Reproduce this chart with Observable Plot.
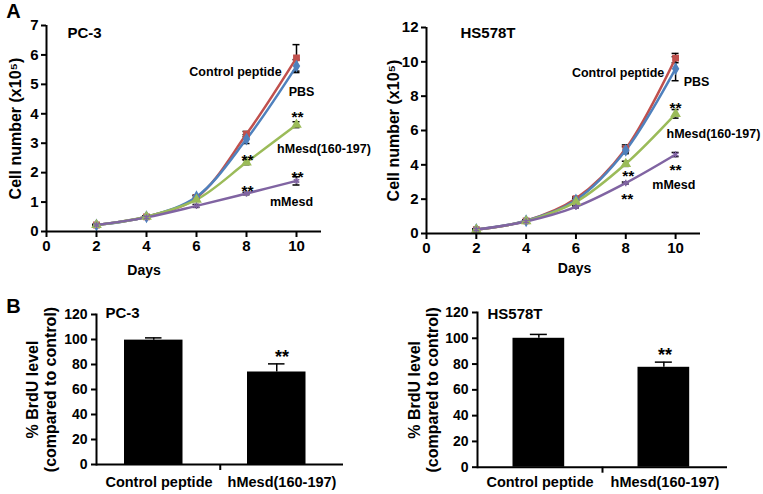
<!DOCTYPE html>
<html><head><meta charset="utf-8">
<script src="https://cdn.jsdelivr.net/npm/d3@7"></script>
<script src="https://cdn.jsdelivr.net/npm/@observablehq/plot@0.6"></script>
<style>
body{margin:0;background:#fff;}
#fig{position:relative;width:763px;height:494px;overflow:hidden;background:#fff;}
.panel{position:absolute;}
</style></head><body><div id="fig"></div>
<script>
// ---------- data ----------
const days = [2, 4, 6, 8, 10];
const xTicks = [0, 2, 4, 6, 8, 10];
const seriesNames = ["Control peptide", "PBS", "hMesd(160-197)", "mMesd"];
const seriesColors = ["#c0504d", "#4f81bd", "#9bbb59", "#8064a2"];
const seriesSymbols = ["square", "diamond", "triangle", "asterisk"];

const pc3Control = [0.22, 0.50, 1.15, 3.31, 5.90];
const pc3PBS     = [0.22, 0.50, 1.18, 3.14, 5.62];
const pc3HMesd   = [0.22, 0.50, 1.08, 2.35, 3.63];
const pc3MMesd   = [0.22, 0.48, 0.87, 1.29, 1.72];
const pc3ControlErr = [0.02, 0.03, 0.06, 0.09, 0.45];
const pc3PBSErr     = [0.02, 0.03, 0.06, 0.15, 0.22];
const pc3HMesdErr   = [0.02, 0.03, 0.05, 0.08, 0.10];
const pc3MMesdErr   = [0.02, 0.03, 0.05, 0.04, 0.14];
const pc3YTicks = [0, 1, 2, 3, 4, 5, 6, 7];

const hsControl = [0.23, 0.74, 2.03, 4.94, 10.22];
const hsPBS     = [0.23, 0.74, 1.95, 4.85, 9.60];
const hsHMesd   = [0.23, 0.72, 1.84, 4.06, 6.97];
const hsMMesd   = [0.23, 0.70, 1.55, 2.94, 4.60];
const hsControlErr = [0.03, 0.05, 0.10, 0.22, 0.27];
const hsPBSErr     = [0.03, 0.05, 0.10, 0.20, 0.70];
const hsHMesdErr   = [0.03, 0.05, 0.08, 0.15, 0.25];
const hsMMesdErr   = [0.03, 0.05, 0.06, 0.06, 0.12];
const hsYTicks = [0, 2, 4, 6, 8, 10, 12];

// annotation texts (data coordinates)
const pc3Notes = [
  {text: "Control peptide", x: 7.56, y: 5.42},
  {text: "PBS", x: 10.2, y: 4.74},
  {text: "**", x: 10.04, y: 3.88},
  {text: "hMesd(160-197)", x: 11.1, y: 2.79},
  {text: "**", x: 8.04, y: 2.44},
  {text: "**", x: 10.04, y: 1.86},
  {text: "**", x: 8.04, y: 1.39},
  {text: "mMesd", x: 9.8, y: 1.0}
];
const hsNotes = [
  {text: "Control peptide", x: 7.69, y: 9.33},
  {text: "PBS", x: 10.84, y: 8.8},
  {text: "**", x: 10.0, y: 7.33},
  {text: "hMesd(160-197)", x: 11.52, y: 5.82},
  {text: "**", x: 10.0, y: 3.72},
  {text: "**", x: 8.1, y: 3.33},
  {text: "mMesd", x: 9.93, y: 2.8},
  {text: "**", x: 8.06, y: 1.99}
];

const brduCategories = ["Control peptide", "hMesd(160-197)"];
const pc3Brdu = [99.5, 74];
const pc3BrduErr = [1.8, 6.5];
const hsBrdu = [100, 77.5];
const hsBrduErr = [3, 4];
const brduYTicks = [0, 20, 40, 60, 80, 100, 120];
const pc3BrduStars = [{cat: "hMesd(160-197)", y: 86, text: "**"}];
const hsBrduStars = [{cat: "hMesd(160-197)", y: 87, text: "**"}];

// ---------- rendering ----------
const FONT = "'Liberation Sans', Arial, sans-serif";
const baseStyle = {fontFamily: FONT, fontSize: "14px", fontWeight: "bold", color: "black", background: "transparent", overflow: "visible"};
const fmt = d => String(d);

function linePlot(cfg) {
  const rows = [];
  cfg.values.forEach((vals, s) => vals.forEach((v, i) =>
    rows.push({series: seriesNames[s], day: days[i], value: v, err: cfg.errors[s][i]})));
  const cap = 0.14;
  return Plot.plot({
    width: cfg.width, height: cfg.height,
    marginLeft: cfg.m[0], marginRight: cfg.m[1], marginTop: cfg.m[2], marginBottom: cfg.m[3],
    x: {domain: [0, 11]},
    y: {domain: cfg.yDomain},
    color: {domain: seriesNames, range: seriesColors},
    symbol: {domain: seriesNames, range: seriesSymbols},
    style: baseStyle,
    marks: [
      Plot.ruleX(rows, {x: "day", y1: d => d.value - d.err, y2: d => d.value + d.err, stroke: "black", strokeWidth: 1.5}),
      Plot.ruleY(rows, {y: d => d.value + d.err, x1: d => d.day - cap, x2: d => d.day + cap, stroke: "black", strokeWidth: 1.5}),
      Plot.ruleY(rows, {y: d => d.value - d.err, x1: d => d.day - cap, x2: d => d.day + cap, stroke: "black", strokeWidth: 1.5}),
      Plot.line(rows, {x: "day", y: "value", z: "series", stroke: "series", strokeWidth: 2.5, curve: "catmull-rom"}),
      Plot.dot(rows, {x: "day", y: "value", symbol: "series", fill: "series", stroke: "series", r: 3}),
      Plot.ruleY([0], {stroke: "black", strokeWidth: 2}),
      Plot.ruleX([0], {stroke: "black", strokeWidth: 2}),
      Plot.axisX({ticks: xTicks, tickFormat: fmt, tickSize: 6, tickPadding: 3, label: null, strokeWidth: 2, fontSize: 15}),
      Plot.axisY({ticks: cfg.yTicks, tickFormat: fmt, tickSize: 5, tickPadding: 3, label: null, strokeWidth: 2, fontSize: 15}),
      Plot.text(cfg.notes, {x: "x", y: "y", text: "text", fontSize: d => d.text === "**" ? 15.5 : 12.5, textAnchor: "middle", lineAnchor: "middle"}),
      Plot.text([cfg.title], {text: d => d, frameAnchor: "top-left", dx: cfg.titleDx, dy: cfg.titleDy, fontSize: 15, textAnchor: "start", lineAnchor: "middle"}),
      Plot.text(["Cell number (x10\u2075)"], {text: d => d, frameAnchor: "left", rotate: -90, dx: cfg.yTitleDx, fontSize: 16, textAnchor: "middle", lineAnchor: "middle"}),
      Plot.text(["Days"], {text: d => d, frameAnchor: "bottom", dx: cfg.daysDx, dy: cfg.daysDy, fontSize: 14, textAnchor: "middle", lineAnchor: "middle"}),
      ...(cfg.letter ? [Plot.text([cfg.letter], {text: d => d, frameAnchor: "top-left", dx: -33, dy: -14, fontSize: 20, textAnchor: "middle", lineAnchor: "middle"})] : [])
    ]
  });
}

function barPlot(cfg) {
  const rows = brduCategories.map((c, i) => ({cat: c, value: cfg.values[i], err: cfg.errors[i]}));
  const [mL, mR, mT, mB] = cfg.m;
  const bw = (cfg.width - mL - mR) / brduCategories.length;
  const shift = (cfg.insetLeft - cfg.insetRight) / 2;
  const capW = 17;
  return Plot.plot({
    width: cfg.width, height: cfg.height,
    marginLeft: mL, marginRight: mR, marginTop: mT, marginBottom: mB,
    x: {type: "band", domain: brduCategories, padding: 0},
    y: {domain: [0, 120]},
    style: baseStyle,
    marks: [
      Plot.barY(rows, {x: "cat", y: "value", fill: "black", insetLeft: cfg.insetLeft, insetRight: cfg.insetRight}),
      Plot.ruleX(rows, {x: "cat", y1: "value", y2: d => d.value + d.err, dx: shift, stroke: "black", strokeWidth: 1.5}),
      Plot.tickY(rows, {x: "cat", y: d => d.value + d.err, insetLeft: (bw - capW) / 2 + shift, insetRight: (bw - capW) / 2 - shift, stroke: "black", strokeWidth: 1.5}),
      Plot.ruleY([0], {stroke: "black", strokeWidth: 2}),
      Plot.frame({anchor: "left", stroke: "black", strokeWidth: 2}),
      Plot.ruleX([brduCategories[1]], {y1: 0, y2: 0, insetBottom: -6, dx: -bw / 2, stroke: "black", strokeWidth: 2}),
      Plot.axisX({tickSize: 0, tickPadding: cfg.labelPad, label: null, fontSize: 14.5}),
      Plot.axisY({ticks: brduYTicks, tickFormat: fmt, tickSize: 5, tickPadding: 4, label: null, strokeWidth: 2, fontSize: 14}),
      Plot.text(cfg.stars, {x: "cat", y: "y", text: "text", fontSize: 18, textAnchor: "middle", lineAnchor: "middle"}),
      Plot.text([cfg.title], {text: d => d, frameAnchor: "top-left", dx: cfg.titleDx, dy: cfg.titleDy, fontSize: 15, textAnchor: "start", lineAnchor: "middle"}),
      Plot.text(["% BrdU level\n(compared to control)"], {text: d => d, frameAnchor: "left", rotate: -90, dx: cfg.yTitleDx, fontSize: 16, lineHeight: 1.12, textAnchor: "middle", lineAnchor: "middle"}),
      ...(cfg.letter ? [Plot.text([cfg.letter], {text: d => d, frameAnchor: "top-left", dx: -83, dy: -8, fontSize: 20, textAnchor: "middle", lineAnchor: "middle"})] : [])
    ]
  });
}

function place(node, left, top) {
  const d = document.createElement("div");
  d.className = "panel";
  d.style.left = left + "px";
  d.style.top = top + "px";
  d.appendChild(node);
  document.getElementById("fig").appendChild(d);
}

place(linePlot({
  width: 380, height: 290, m: [46, 59, 25, 59], yDomain: [0, 7], yTicks: pc3YTicks,
  values: [pc3Control, pc3PBS, pc3HMesd, pc3MMesd],
  errors: [pc3ControlErr, pc3PBSErr, pc3HMesdErr, pc3MMesdErr],
  notes: pc3Notes, title: "PC-3", titleDx: 21, titleDy: 8,
  yTitleDx: -31, daysDx: -40, daysDy: 39, letter: "A"
}), 0, 0);

place(linePlot({
  width: 383, height: 290, m: [46, 63, 27, 57], yDomain: [0, 12], yTicks: hsYTicks,
  values: [hsControl, hsPBS, hsHMesd, hsMMesd],
  errors: [hsControlErr, hsPBSErr, hsHMesdErr, hsMMesdErr],
  notes: hsNotes, title: "HS578T", titleDx: 34, titleDy: 6,
  yTitleDx: -33, daysDx: 11, daysDy: 35
}), 380, 0);

place(barPlot({
  width: 380, height: 204, m: [96, 37, 24, 30],
  values: pc3Brdu, errors: pc3BrduErr, stars: pc3BrduStars,
  insetLeft: 27, insetRight: 37.5, labelPad: 12,
  title: "PC-3", titleDx: 9, titleDy: -1, yTitleDx: -55, letter: "B"
}), 0, 290);

place(barPlot({
  width: 383, height: 204, m: [97, 36, 22, 27.3],
  values: hsBrdu, errors: hsBrduErr, stars: hsBrduStars,
  insetLeft: 35.5, insetRight: 37.8, labelPad: 10,
  title: "HS578T", titleDx: 10, titleDy: 2, yTitleDx: -54.5
}), 380, 290);
</script>
</body></html>
